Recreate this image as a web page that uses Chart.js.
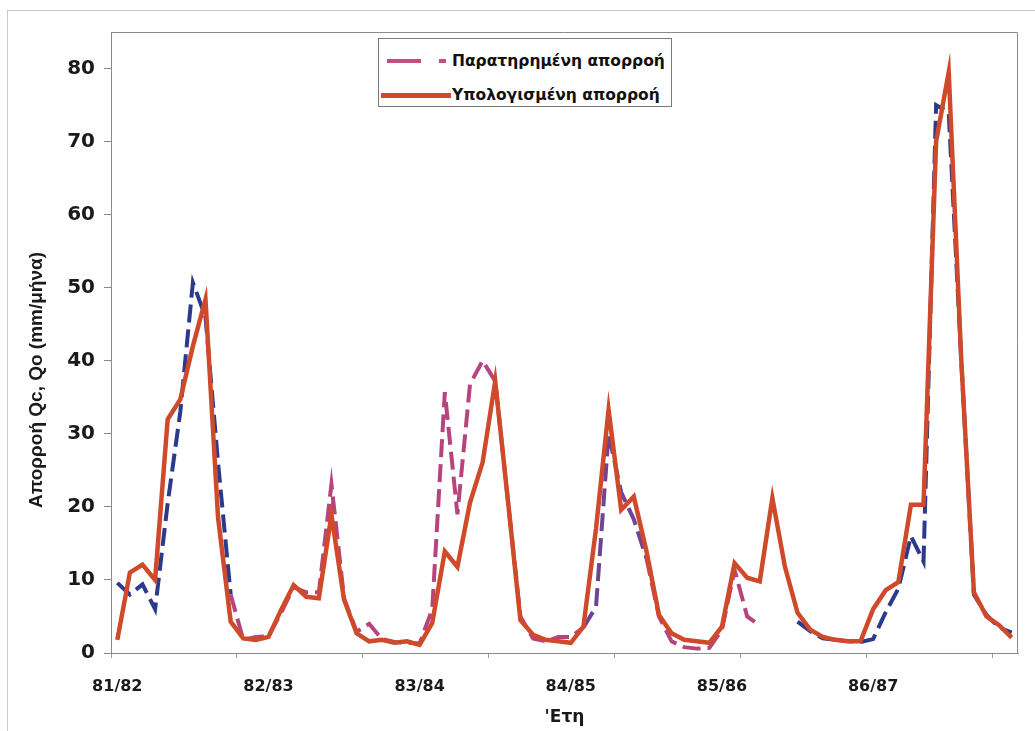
<!DOCTYPE html>
<html>
<head>
<meta charset="utf-8">
<script src="https://cdn.jsdelivr.net/npm/chart.js@4.4.0/dist/chart.umd.min.js"></script>
<style>
    html, body { margin: 0; padding: 0; background: #fff; }
    #wrap { position: relative; width: 1035px; height: 731px; overflow: hidden; }
    #frame { position: absolute; left: 7px; top: 10px; width: 1040px; height: 740px; border: 1px solid #c8c8c8; }
    #legend {
        position: absolute; left: 378px; top: 38px; width: 292px; height: 67px;
        border: 1px solid #7a7a7a; background: #fff;
        font-family: 'DejaVu Sans', sans-serif; font-weight: bold; font-size: 15.5px; color: #111;
    }
    .row { position: absolute; left: 0; height: 20px; line-height: 20px; white-space: nowrap; }
    .sw { position: absolute; height: 4px; top: 8px; }
    .txt { position: absolute; left: 73px; top: 0; }
</style>
</head>
<body>
<div id="wrap">
    <div id="frame"></div>
    <canvas id="runoffChart" width="1035" height="731"></canvas>
    <div id="legend">
        <div class="row" style="top: 12px; width: 290px;">
            <div class="sw" style="left: 8px; width: 34px; background: #c0507f;"></div>
            <div class="sw" style="left: 60px; width: 7px; background: #c0507f;"></div>
            <div class="txt">Παρατηρημένη απορροή</div>
        </div>
        <div class="row" style="top: 46px; width: 290px;">
            <div class="sw" style="left: 2px; width: 70px; height: 5px; background: #cf4a2b;"></div>
            <div class="txt">Υπολογισμένη απορροή</div>
        </div>
    </div>
</div>
<script>
// hydrological years shown on the x axis (one label every 12 months)
const years = ['81/82', '82/83', '83/84', '84/85', '85/86', '86/87'];
const monthsPerYear = 12;

// computed runoff Qc (mm/month), Oct 1981 - Sep 1987
const computed = [
    1.8, 11.0, 12.1, 10.0, 32.0, 34.7, 42.0, 48.4, 18.5, 4.3, 2.0, 1.8,
    2.2, 5.9, 9.3, 7.7, 7.5, 18.9, 7.3, 2.7, 1.6, 1.8, 1.4, 1.6,
    1.1, 4.1, 13.9, 11.8, 20.6, 26.1, 37.2, 21.0, 4.5, 2.5, 1.8, 1.6,
    1.4, 3.6, 17.0, 33.3, 19.6, 21.4, 14.0, 5.2, 2.7, 1.8, 1.6, 1.4,
    3.6, 12.3, 10.3, 9.8, 21.2, 11.8, 5.5, 3.2, 2.2, 1.8, 1.6, 1.6,
    6.0, 8.6, 9.7, 20.3, 20.3, 70.0, 79.5, 40.0, 8.3, 5.0, 3.8, 2.1
];

// observed runoff Qo (mm/month), gaps where no measurement
const observed = [
    9.6, 8.0, 9.4, 6.0, 20.5, 33.0, 50.7, 46.0, 26.0, 8.0, 1.8, 2.2,
    2.3, 5.5, 9.0, 8.3, 8.3, 23.1, 7.5, 2.9, 4.0, 1.9, 1.5, 1.4,
    1.3, 6.0, 35.7, 19.0, 36.8, 40.0, 37.2, 21.0, 5.0, 2.0, 1.6, 2.2,
    2.2, 3.5, 6.3, 30.0, 22.0, 18.3, 13.0, 5.0, 1.6, 0.8, 0.6, 0.7,
    3.2, 11.4, 5.0, 3.8, null, null, 4.3, 3.0, 2.0, 1.8, 1.6, 1.5,
    1.9, 5.6, 8.8, 16.0, 12.5, 75.0, 74.0, 40.0, 8.0, 5.2, 3.5, 2.8
];

const months = [];
years.forEach(y => {
    for (let m = 1; m <= monthsPerYear; m++) months.push(y + ' ' + m);
});

const NAVY = '#2b3a8a';
const PINK = '#b8447e';
const PURPLE = '#6d4590';
const RED = '#cf4a2b';

function observedColor(ctx) {
    const i = ctx.p0DataIndex;
    if (i < 9 || i >= 59) return NAVY;
    if (i >= 37 && i < 42) return PURPLE;
    if (i >= 53 && i < 57) return NAVY;
    return PINK;
}

const frameAndTitle = {
    id: 'frameAndTitle',
    afterDraw(chart) {
        const { ctx, chartArea } = chart;
        ctx.save();
        ctx.strokeStyle = '#8a8a8a';
        ctx.lineWidth = 1;
        ctx.beginPath();
        ctx.moveTo(chartArea.left + 0.5, chartArea.bottom);
        ctx.lineTo(chartArea.left + 0.5, chartArea.top + 0.5);
        ctx.lineTo(chartArea.right - 0.5, chartArea.top + 0.5);
        ctx.lineTo(chartArea.right - 0.5, chartArea.bottom);
        ctx.stroke();

        // y axis title, sits a bit below the middle in the original
        ctx.translate(37, 380);
        ctx.rotate(-Math.PI / 2);
        ctx.fillStyle = '#1a1a1a';
        ctx.font = "bold 19px 'Liberation Sans Narrow', 'Liberation Sans', sans-serif";
        ctx.textAlign = 'center';
        ctx.textBaseline = 'middle';
        ctx.fillText('Απορροή Qc, Qo (mm/μήνα)', 0, 0);
        ctx.restore();
    }
};

const ctx = document.getElementById('runoffChart').getContext('2d');

new Chart(ctx, {
    type: 'line',
    data: {
        labels: months,
        datasets: [
            {
                label: 'Υπολογισμένη απορροή',
                data: computed,
                borderColor: RED,
                borderWidth: 4.5,
                pointRadius: 0,
                tension: 0,
                fill: false
            },
            {
                label: 'Παρατηρημένη απορροή',
                data: observed,
                borderColor: PINK,
                borderWidth: 4,
                borderDash: [18, 7],
                pointRadius: 0,
                tension: 0,
                fill: false,
                spanGaps: false,
                segment: { borderColor: observedColor }
            }
        ]
    },
    options: {
        responsive: false,
        devicePixelRatio: 1,
        animation: false,
        layout: { padding: { top: 32, right: 17, left: 0, bottom: 0 } },
        plugins: {
            legend: { display: false },
            tooltip: { enabled: false }
        },
        scales: {
            x: {
                type: 'category',
                offset: true,
                afterFit: scale => { scale.height = 78; },
                grid: {
                    offset: true,
                    drawOnChartArea: false,
                    tickLength: 5,
                    color: c => (c.index % 10 === 0 ? '#9a9a9a' : 'rgba(0,0,0,0)')
                },
                border: { display: true, color: '#8a8a8a' },
                ticks: {
                    autoSkip: false,
                    maxRotation: 0,
                    padding: 19,
                    color: '#1a1a1a',
                    font: { family: 'DejaVu Sans', weight: 'bold', size: 16 },
                    callback: (v, i) => (i % monthsPerYear === 0 ? years[i / monthsPerYear] : '')
                },
                title: {
                    display: true,
                    text: "'Ετη",
                    color: '#1a1a1a',
                    font: { family: 'DejaVu Sans', weight: 'bold', size: 17 },
                    padding: { top: 0, bottom: 3 }
                }
            },
            y: {
                min: 0,
                max: 85,
                afterFit: scale => { scale.width = 111; },
                afterBuildTicks: scale => {
                    scale.ticks = scale.ticks.filter(t => t.value % 10 === 0);
                },
                grid: {
                    drawOnChartArea: false,
                    tickLength: 7,
                    color: '#8a8a8a'
                },
                border: { display: true, color: '#8a8a8a' },
                ticks: {
                    stepSize: 10,
                    padding: 9,
                    color: '#1a1a1a',
                    font: { family: 'DejaVu Sans', weight: 'bold', size: 20 }
                }
            }
        }
    },
    plugins: [frameAndTitle]
});
</script>
</body>
</html>
